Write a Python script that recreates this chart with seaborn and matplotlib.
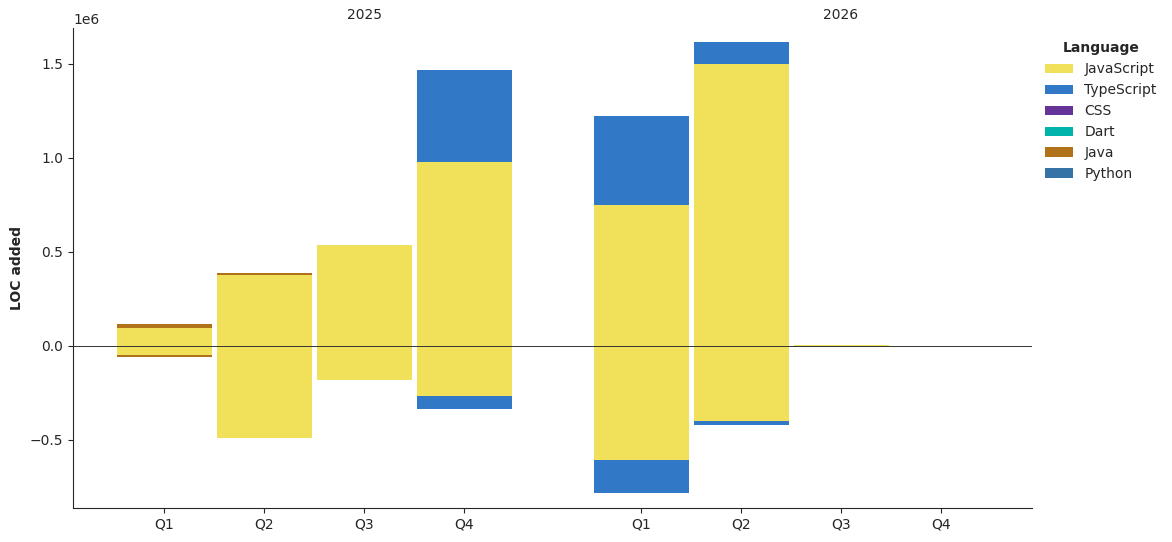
import numpy as np
import matplotlib
matplotlib.use("Agg")
import matplotlib.pyplot as plt
import matplotlib.transforms as mtransforms
import seaborn as sns

years = ["2025", "2026"]
quarters = ["Q1", "Q2", "Q3", "Q4"]
languages = ["JavaScript", "TypeScript", "CSS", "Dart", "Java", "Python"]
colors = ["#f0e05a", "#3178c6", "#663399", "#00b4ab", "#b07219", "#3572a5"]

# LOC added (positive) per quarter: 2025 Q1..Q4, 2026 Q1..Q4
js_pos = [97000, 379000, 535000, 980000, 750000, 1502000, 3000, 0]
ts_pos = [0, 0, 0, 485000, 475000, 112000, 0, 0]
css_pos = [0, 0, 0, 4000, 0, 0, 0, 0]
dart_pos = [0, 0, 4000, 0, 0, 0, 0, 0]
java_pos = [21000, 11000, 0, 0, 0, 0, 1000, 0]
python_pos = [0, 0, 0, 0, 0, 0, 0, 0]

# LOC removed (negative)
js_neg = [-46000, -488000, -179000, -264000, -605000, -397000, -7000, 0]
ts_neg = [0, 0, 0, -69000, -176000, -21000, 0, 0]
css_neg = [0, 0, 0, 0, 0, 0, 0, 0]
dart_neg = [0, 0, 0, 0, 0, 0, 0, 0]
java_neg = [-11000, 0, 0, 0, 0, 0, 0, 0]
python_neg = [0, 0, 0, 0, 0, 0, 0, 0]

pos = [js_pos, ts_pos, css_pos, dart_pos, java_pos, python_pos]
neg = [js_neg, ts_neg, css_neg, dart_neg, java_neg, python_neg]

sns.set_style("ticks")
plt.rcParams["font.family"] = ["DejaVu Sans"]

fig = plt.figure(figsize=(11.72, 5.42), dpi=100)
ax = fig.add_axes([73 / 1172, 1 - 508 / 542, (1032 - 73) / 1172, (508 - 28) / 542])

group_gap = 0.77
x = []
for gi, _ in enumerate(years):
    for qi, _ in enumerate(quarters):
        x.append(gi * (len(quarters) + group_gap) + qi)
x = np.array(x)

bottom_p = np.zeros(len(x))
bottom_n = np.zeros(len(x))
for lang, col, p, n in zip(languages, colors, pos, neg):
    p = np.array(p, dtype=float)
    n = np.array(n, dtype=float)
    ax.bar(x, p, bottom=bottom_p, width=0.95, color=col, label=lang, linewidth=0)
    ax.bar(x, n, bottom=bottom_n, width=0.95, color=col, linewidth=0)
    bottom_p += p
    bottom_n += n

ax.axhline(0, color="#333333", linewidth=0.7)
ax.set_xticks(x)
ax.set_xticklabels(quarters * len(years))
ax.set_xlim(x[0] - 0.91, x[-1] + 0.91)
ax.set_ylim(-862000, 1691000)
ax.set_ylabel("LOC added", fontweight="bold")

trans = mtransforms.blended_transform_factory(ax.transData, ax.transAxes)
for gi, yr in enumerate(years):
    xc = gi * (len(quarters) + group_gap) + 2
    ax.text(xc, 1.012, yr, transform=trans, ha="center", va="bottom", fontsize=10)

sns.despine(ax=ax)
leg = ax.legend(title="Language", loc="upper left", bbox_to_anchor=(1.001, 0.998),
                frameon=False)
leg.get_title().set_fontweight("bold")

fig.savefig("out.png", dpi=100)
